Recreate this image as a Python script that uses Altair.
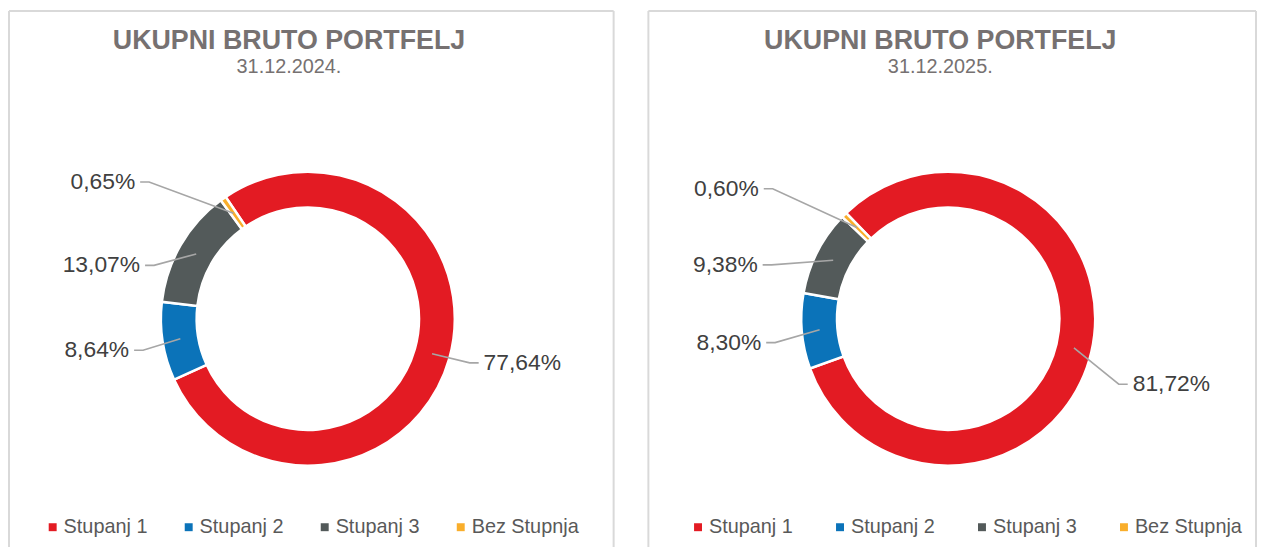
import math
import pandas as pd
import altair as alt

# ---------------- data ----------------
TITLE = "UKUPNI BRUTO PORTFELJ"
DATES = ["31.12.2024.", "31.12.2025."]
CATEGORIES = ["Stupanj 1", "Stupanj 2", "Stupanj 3", "Bez Stupnja"]
VALUES_2024 = [77.64, 8.64, 13.07, 0.65]
VALUES_2025 = [81.72, 8.30, 9.38, 0.60]
COLORS = ["#E31B23", "#0B73B9", "#535A5A", "#F9AE2B"]

# ---------------- layout ----------------
FONT = "Liberation Sans"
PANEL_W = [609, 612]
PANEL_H = 540
SPACING = 33
CENTER = [(301, 310), (302, 310)]
TITLE_X = [282, 294]
TITLE_Y, SUB_Y = 38, 63
LEGEND_X = [34, 40]
LEGEND_PAD = [31, 37]
LEGEND_Y = 510
START_DEG = [326, 316]
R_OUT, R_IN, R_MID = 148, 112, 130
# per slice: (angle nudge in degrees, elbow radius)
LABEL_PLACE = [
    [(-0.5, 169), (-1.9, 169), (-11.0, 164), (-14.1, 211)],
    [(7.9, 184), (-3, 176), (-10, 186), (-8.4, 220)],
]
STUB, GAP = 9, 5


def polar(deg, r):
    a = math.radians(deg)
    return r * math.sin(a), -r * math.cos(a)


def panel(k, values):
    W = PANEL_W[k]
    cx, cy = CENTER[k]
    start = START_DEG[k]

    df = pd.DataFrame({
        "cat": CATEGORIES,
        "value": values,
        "idx": list(range(len(values))),
        "label": [f"{v:.2f}".replace(".", ",") + "%" for v in values],
    })

    # leader lines and label anchors derived from the slice angles
    total = sum(values)
    line_rows, lab_rows = [], []
    acc = 0.0
    for i, (c, v, lab) in enumerate(zip(CATEGORIES, values, df["label"])):
        mid = start + (acc + v / 2) / total * 360.0
        acc += v
        nudge, r_el = LABEL_PLACE[k][i]
        sx, sy = polar(mid, R_MID)
        ex, ey = polar(mid + nudge, r_el)
        side = 1 if ex >= 0 else -1
        tx = ex + side * STUB
        for j, (px, py) in enumerate([(sx, sy), (ex, ey), (tx, ey)]):
            line_rows.append({"cat": c, "j": j, "x": px, "y": py})
        lab_rows.append({"cat": c, "x": tx + side * GAP, "y": ey, "label": lab,
                         "side": "left" if side > 0 else "right"})
    lines = pd.DataFrame(line_rows)
    labs = pd.DataFrame(lab_rows)

    xs = alt.Scale(domain=[-cx, W - cx], nice=False, zero=False)
    ys = alt.Scale(domain=[-cy, PANEL_H - cy], nice=False, zero=False, reverse=True)

    color = alt.Color(
        "cat:N",
        scale=alt.Scale(domain=CATEGORIES, range=COLORS),
        sort=CATEGORIES,
        legend=alt.Legend(
            orient="none", legendX=LEGEND_X[k], legendY=LEGEND_Y,
            direction="horizontal", columns=4, title=None,
            symbolType="square", symbolSize=64, symbolStrokeWidth=0,
            labelFont=FONT, labelFontSize=20, labelColor="#595959",
            labelOffset=1, columnPadding=LEGEND_PAD[k],
        ),
    )

    arcs = alt.Chart(df).mark_arc(
        innerRadius=R_IN, outerRadius=R_OUT, stroke="white", strokeWidth=2.5
    ).encode(
        theta=alt.Theta("value:Q", stack=True,
                        scale=alt.Scale(range=[math.radians(start), math.radians(start) + 2 * math.pi])),
        order=alt.Order("idx:Q"),
        color=color,
        x=alt.value(cx),
        y=alt.value(cy),
    )

    leader = alt.Chart(lines).mark_line(color="#A6A6A6", strokeWidth=1.6).encode(
        x=alt.X("x:Q", scale=xs, axis=None),
        y=alt.Y("y:Q", scale=ys, axis=None),
        detail="cat:N",
        order="j:Q",
    )

    base_lab = alt.Chart(labs)
    lab_l = base_lab.transform_filter(alt.datum.side == "left").mark_text(
        align="left", baseline="middle", font=FONT, fontSize=23, color="#404040"
    ).encode(x=alt.X("x:Q", scale=xs, axis=None), y=alt.Y("y:Q", scale=ys, axis=None), text="label:N")
    lab_r = base_lab.transform_filter(alt.datum.side == "right").mark_text(
        align="right", baseline="middle", font=FONT, fontSize=23, color="#404040"
    ).encode(x=alt.X("x:Q", scale=xs, axis=None), y=alt.Y("y:Q", scale=ys, axis=None), text="label:N")

    ttl = alt.Chart(pd.DataFrame({"t": [TITLE]})).mark_text(
        align="center", baseline="alphabetic", font=FONT, fontSize=27,
        fontWeight="bold", color="#767171"
    ).encode(text="t:N", x=alt.value(TITLE_X[k]), y=alt.value(TITLE_Y))

    sub = alt.Chart(pd.DataFrame({"t": [DATES[k]]})).mark_text(
        align="center", baseline="alphabetic", font=FONT, fontSize=20, color="#767171"
    ).encode(text="t:N", x=alt.value(TITLE_X[k]), y=alt.value(SUB_Y))

    bd = pd.DataFrame({"a": [0]})
    border_style = dict(color="#D9D9D9", strokeWidth=2)
    top = alt.Chart(bd).mark_rule(**border_style).encode(
        x=alt.value(0), x2=alt.value(W), y=alt.value(0))
    left = alt.Chart(bd).mark_rule(**border_style).encode(
        x=alt.value(0), y=alt.value(0), y2=alt.value(PANEL_H))
    right = alt.Chart(bd).mark_rule(**border_style).encode(
        x=alt.value(W), y=alt.value(0), y2=alt.value(PANEL_H))

    return alt.layer(top, left, right, arcs, leader, lab_l, lab_r, ttl, sub).properties(
        width=W, height=PANEL_H
    )


chart = alt.hconcat(panel(0, VALUES_2024), panel(1, VALUES_2025), spacing=SPACING).resolve_scale(
    color="independent", x="independent", y="independent"
).resolve_legend(color="independent").properties(padding=0).configure_view(strokeWidth=0)

chart.save("out.html", embed_options={"renderer": "svg", "actions": False})
